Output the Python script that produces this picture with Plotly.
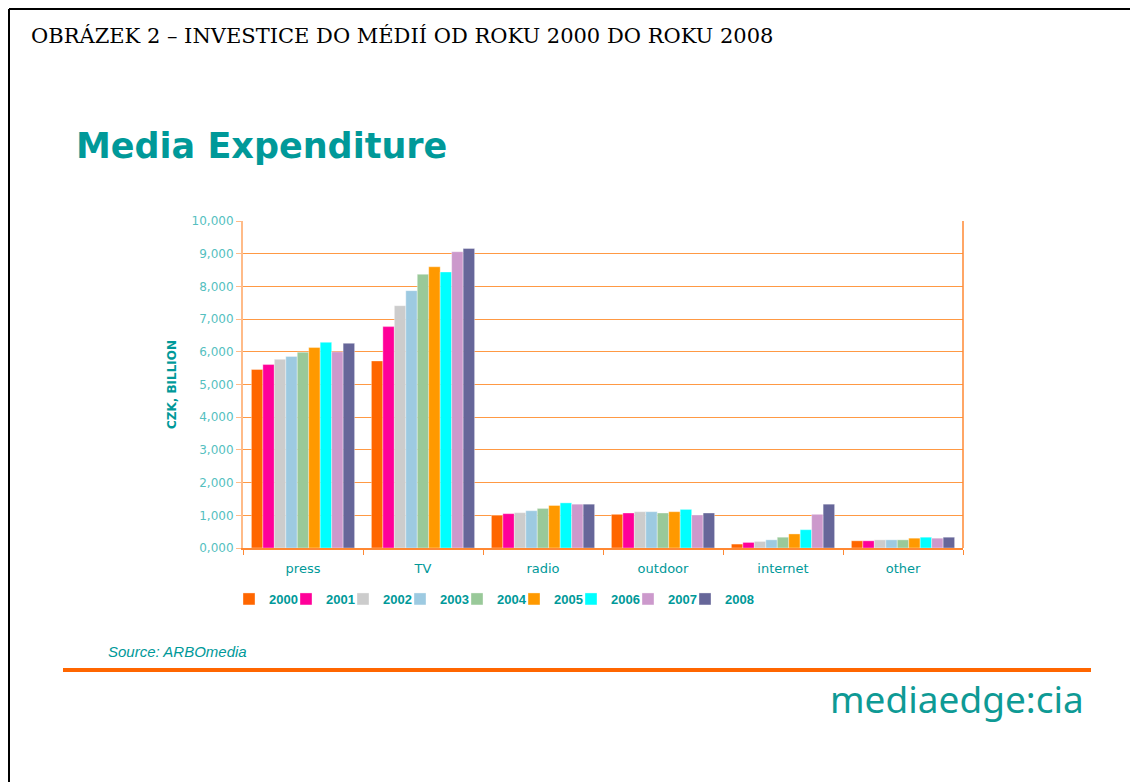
import plotly.graph_objects as go

categories = ["press", "TV", "radio", "outdoor", "internet", "other"]
years = ["2000", "2001", "2002", "2003", "2004", "2005", "2006", "2007", "2008"]
v2000 = [5460, 5720, 1000, 1030, 120, 220]
v2001 = [5610, 6770, 1050, 1070, 170, 220]
v2002 = [5770, 7410, 1080, 1110, 200, 250]
v2003 = [5860, 7870, 1140, 1110, 250, 250]
v2004 = [5990, 8370, 1210, 1070, 330, 250]
v2005 = [6130, 8600, 1300, 1110, 430, 300]
v2006 = [6290, 8440, 1380, 1180, 560, 330]
v2007 = [6000, 9060, 1340, 1010, 1030, 300]
v2008 = [6260, 9160, 1340, 1070, 1340, 330]
series = [v2000, v2001, v2002, v2003, v2004, v2005, v2006, v2007, v2008]
colors = ["#FF6600", "#FF0099", "#CCCCCC", "#9DCAE1", "#99C999",
          "#FF9900", "#00FFFF", "#CC99CC", "#666699"]
ytickvals = [0, 1000, 2000, 3000, 4000, 5000, 6000, 7000, 8000, 9000, 10000]
yticktext = ["0,000", "1,000", "2,000", "3,000", "4,000", "5,000", "6,000",
             "7,000", "8,000", "9,000", "10,000"]

W, H = 1130, 782
L, R, T, B = 243, 963, 221, 548
PW, PH = R - L, B - T


def px(x):
    return (x - L) / PW


def py(y):
    return (B - y) / PH


fig = go.Figure()
for name, vals, col in zip(years, series, colors):
    fig.add_trace(go.Bar(
        x=categories, y=vals, name=name,
        marker=dict(color=col, line=dict(color="rgba(255,255,255,0.6)", width=0.6)),
    ))
# invisible legend-only spacer so the last legend label is not clipped
fig.add_trace(go.Bar(x=[categories[0]], y=[0], name=" ", visible="legendonly",
                     marker=dict(color="rgba(0,0,0,0)", line=dict(width=0))))

TEAL = "#009999"
SANS = "DejaVu Sans, Arial, sans-serif"

fig.update_layout(
    width=W, height=H,
    margin=dict(l=L, r=W - R, t=T, b=H - B, autoexpand=False),
    paper_bgcolor="white", plot_bgcolor="white",
    barmode="group", bargap=0.14, bargroupgap=0.0,
    font=dict(family=SANS, color=TEAL),
    showlegend=True,
    legend=dict(
        orientation="h", x=px(229), xanchor="left", y=py(599), yanchor="middle",
        font=dict(size=13, color=TEAL, family="Arial, Liberation Sans", weight="bold"),
        itemwidth=30, entrywidth=12, entrywidthmode="pixels",
        tracegroupgap=0, bgcolor="rgba(0,0,0,0)", itemclick=False, itemdoubleclick=False,
    ),
    xaxis=dict(
        showline=True, linecolor="#FF8833", linewidth=1.5,
        ticks="outside", tickson="boundaries", ticklen=5, tickcolor="#FF8833",
        tickfont=dict(size=13, color=TEAL, family=SANS),
        ticklabelstandoff=8,
        showgrid=False,
    ),
    yaxis=dict(
        range=[0, 10000], tickvals=ytickvals, ticktext=yticktext,
        tickfont=dict(size=12, color="#55BFBF", family=SANS),
        showgrid=True, gridcolor="#FF9944", gridwidth=1,
        showline=True, linecolor="#FFBB88", linewidth=2,
        ticks="outside", ticklen=5, tickcolor="#FFBB88",
        zeroline=False,
        title=dict(text="<b>CZK, BILLION</b>", standoff=12,
                   font=dict(size=12, color=TEAL, family=SANS)),
    ),
)

# right border of plot area
fig.add_shape(type="line", xref="paper", yref="paper",
              x0=1, x1=1, y0=0, y1=1, line=dict(color="#FF8833", width=1.5))
# page frame (black border lines left & top)
fig.add_shape(type="line", xref="paper", yref="paper",
              x0=px(9), x1=px(1130), y0=py(9), y1=py(9),
              line=dict(color="black", width=2))
fig.add_shape(type="line", xref="paper", yref="paper",
              x0=px(9), x1=px(9), y0=py(9), y1=py(782),
              line=dict(color="black", width=2))
# orange separator
fig.add_shape(type="line", xref="paper", yref="paper",
              x0=px(63), x1=px(1091), y0=py(670), y1=py(670),
              line=dict(color="#FF6600", width=4))

fig.add_annotation(text="OBRÁZEK 2 – INVESTICE DO MÉDIÍ OD ROKU 2000 DO ROKU 2008",
                   xref="paper", yref="paper", x=px(29), y=py(36),
                   xanchor="left", yanchor="middle", showarrow=False,
                   font=dict(size=21, color="black", family="DejaVu Serif, serif"))
fig.add_annotation(text="<b>Media Expenditure</b>",
                   xref="paper", yref="paper", x=px(74), y=py(146),
                   xanchor="left", yanchor="middle", showarrow=False,
                   font=dict(size=35, color=TEAL, family=SANS))
fig.add_annotation(text="<i>Source: ARBOmedia</i>",
                   xref="paper", yref="paper", x=px(106), y=py(651),
                   xanchor="left", yanchor="middle", showarrow=False,
                   font=dict(size=15, color=TEAL, family="Arial, Liberation Sans"))
fig.add_annotation(text="mediaedge:cia",
                   xref="paper", yref="paper", x=px(1086), y=py(698),
                   xanchor="right", yanchor="middle", showarrow=False,
                   font=dict(size=37, color="#0E9A95", family="Noto Sans, DejaVu Sans"))

fig.write_html("out.html", config={"displayModeBar": False},
               post_script="document.body.style.margin='0px';")
